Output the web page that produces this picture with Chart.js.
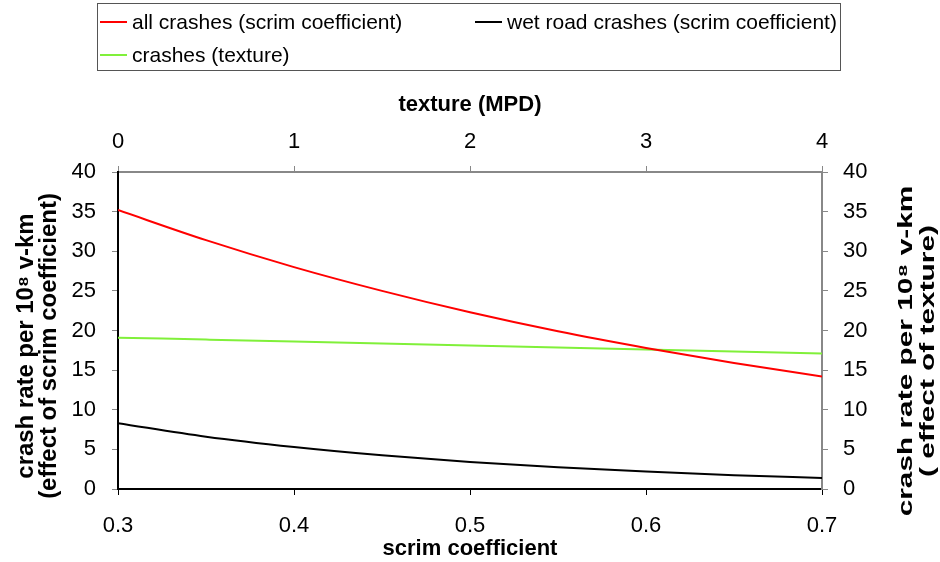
<!DOCTYPE html>
<html>
<head>
<meta charset="utf-8">
<script src="https://cdn.jsdelivr.net/npm/chart.js@4.4.1/dist/chart.umd.min.js"></script>
<style>
  html, body { margin: 0; padding: 0; background: #fff; }
  #wrap { position: relative; width: 940px; height: 562px; }
  #legend {
    position: absolute; left: 97px; top: 3px; width: 744px; height: 68px;
    border: 1px solid #555; box-sizing: border-box;
    font: 21px "Liberation Sans", Arial, sans-serif; color: #000;
  }
  .item { position: absolute; display: flex; align-items: center; white-space: nowrap; height: 24px; }
  .item .sw { display: inline-block; width: 27px; height: 2px; margin-right: 5px; }
</style>
</head>
<body>
<div id="wrap">
  <canvas id="crashChart" width="940" height="562"></canvas>
  <div id="legend"></div>
</div>
<script>
// values
const scrim = [0.30, 0.35, 0.40, 0.45, 0.50, 0.55, 0.60, 0.65, 0.70];
const allCrashes = [35.2, 31.4, 28.0, 25.0, 22.3, 19.9, 17.8, 15.9, 14.2];
const wetCrashes = [8.3, 6.6, 5.3, 4.25, 3.4, 2.75, 2.2, 1.75, 1.4];

const texture = [0, 0.5, 1, 1.5, 2, 2.5, 3, 3.5, 4];
const textureCrashes = [19.1, 18.85, 18.6, 18.35, 18.1, 17.85, 17.6, 17.35, 17.1];

const scrimTicks = [0.3, 0.4, 0.5, 0.6, 0.7];
const textureTicks = [0, 1, 2, 3, 4];
const rateTicks = [0, 5, 10, 15, 20, 25, 30, 35, 40];

const seriesLabels = ['all crashes (scrim coefficient)', 'wet road crashes (scrim coefficient)', 'crashes (texture)'];
const leftTitle = ['crash rate per 10\u2078 v-km', '(effect of scrim coefficient)'];
const rightTitle = ['crash rate per 10\u2078 v-km', '( effect of texture)'];

const FONT = '"Liberation Sans", Arial, sans-serif';
Chart.defaults.font.family = FONT;
Chart.defaults.color = '#000';

const toPoints = (xs, ys) => xs.map((x, i) => ({x: x, y: ys[i]}));
const fixTicks = list => scale => { scale.ticks = list.map(v => ({value: v})); };

// rotated axis titles (the picture stretches them along the text)
const sideTitles = {
    id: 'sideTitles',
    afterDraw(chart) {
        const ctx = chart.ctx;
        const draw = (lines, xs, cy, size, stretch) => {
            lines.forEach((line, i) => {
                ctx.save();
                ctx.translate(xs[i], cy);
                ctx.rotate(-Math.PI / 2);
                ctx.scale(stretch, 1);
                ctx.font = 'bold ' + size + 'px ' + FONT;
                ctx.fillStyle = '#000';
                ctx.textAlign = 'center';
                ctx.textBaseline = 'middle';
                ctx.fillText(line, 0, 0);
                ctx.restore();
            });
        };
        draw(leftTitle, [27, 50], 346, 23, 1.04);
        draw(rightTitle, [906, 928], 351, 21, 1.42);
    }
};

const ctx = document.getElementById('crashChart');
const chart = new Chart(ctx, {
    type: 'line',
    data: {
        datasets: [{
            label: seriesLabels[0],
            data: toPoints(scrim, allCrashes),
            borderColor: '#ff0000',
            xAxisID: 'x', yAxisID: 'y'
        }, {
            label: seriesLabels[1],
            data: toPoints(scrim, wetCrashes),
            borderColor: '#000000',
            xAxisID: 'x', yAxisID: 'y'
        }, {
            label: seriesLabels[2],
            data: toPoints(texture, textureCrashes),
            borderColor: '#80f03a',
            xAxisID: 'x2', yAxisID: 'y2'
        }]
    },
    options: {
        responsive: false,
        animation: false,
        layout: { padding: { top: 80, left: 0, right: 0, bottom: 0 } },
        elements: {
            line: { borderWidth: 2, tension: 0.4, cubicInterpolationMode: 'monotone', fill: false },
            point: { radius: 0 }
        },
        plugins: { legend: { display: false }, tooltip: { enabled: false } },
        scales: {
            x: {
                type: 'linear', position: 'bottom', min: 0.3, max: 0.7,
                afterBuildTicks: fixTicks(scrimTicks),
                afterFit: s => { s.height = 73; },
                grid: { drawOnChartArea: false, color: '#000', tickLength: 6 },
                border: { color: '#000', width: 2 },
                ticks: { font: { size: 22 }, padding: 18, maxRotation: 0, autoSkip: false,
                         callback: v => v.toFixed(1) },
                title: { display: true, text: 'scrim coefficient', font: { size: 22, weight: 'bold' },
                         padding: { top: 0, bottom: 0 } }
            },
            x2: {
                type: 'linear', position: 'top', min: 0, max: 4,
                afterBuildTicks: fixTicks(textureTicks),
                afterFit: s => { s.height = 92; },
                grid: { drawOnChartArea: false, color: '#888', tickLength: 6 },
                border: { color: '#888', width: 2 },
                ticks: { font: { size: 22 }, padding: 11, maxRotation: 0, autoSkip: false },
                title: { display: true, text: 'texture (MPD)', font: { size: 22, weight: 'bold' },
                         padding: { top: 12, bottom: 0 } }
            },
            y: {
                type: 'linear', position: 'left', min: 0, max: 40,
                afterBuildTicks: fixTicks(rateTicks),
                afterFit: s => { s.width = 118; },
                grid: { drawOnChartArea: false, color: '#888', tickLength: 6 },
                border: { color: '#000', width: 2 },
                ticks: { font: { size: 22 }, padding: 16 }
            },
            y2: {
                type: 'linear', position: 'right', min: 0, max: 40,
                afterBuildTicks: fixTicks(rateTicks),
                afterFit: s => { s.width = 118; },
                grid: { drawOnChartArea: false, color: '#888', tickLength: 6 },
                border: { color: '#888', width: 2 },
                ticks: { font: { size: 22 }, padding: 15 }
            }
        }
    },
    plugins: [sideTitles]
});

// legend box built from the datasets
const legendSpots = [[2, 6], [377, 6], [2, 39]];
const legendEl = document.getElementById('legend');
chart.data.datasets.forEach((ds, i) => {
    const item = document.createElement('div');
    item.className = 'item';
    item.style.left = legendSpots[i][0] + 'px';
    item.style.top = legendSpots[i][1] + 'px';
    item.innerHTML = '<span class="sw" style="background:' + ds.borderColor + '"></span><span>' + ds.label + '</span>';
    legendEl.appendChild(item);
});
</script>
</body>
</html>
